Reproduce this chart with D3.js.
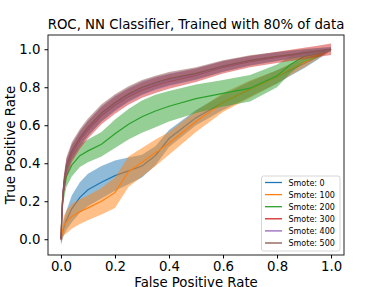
<!DOCTYPE html>
<html><head><meta charset="utf-8">
<script src="https://cdn.jsdelivr.net/npm/d3@7"></script>
<style>body{margin:0;background:#fff}svg{display:block}text{font-family:"DejaVu Sans",sans-serif}</style>
</head><body><svg id="c" width="382" height="287"></svg>
<script>
const fpr = [0, 0.005, 0.01, 0.02, 0.04, 0.07, 0.1, 0.15, 0.2, 0.25, 0.3, 0.35, 0.4, 0.5, 0.6, 0.7, 0.8, 0.85, 0.9, 0.95, 1.0];
const labels = ["Smote: 0","Smote: 100","Smote: 200","Smote: 300","Smote: 400","Smote: 500"];
const colors = ["#1f77b4","#ff7f0e","#2ca02c","#d62728","#9467bd","#8c564b"];
const meanTpr = [
  [0, 0.03, 0.06, 0.10, 0.16, 0.22, 0.26, 0.30, 0.335, 0.36, 0.385, 0.44, 0.53, 0.64, 0.72, 0.79, 0.855, 0.89, 0.925, 0.96, 1.0],
  [0, 0.04, 0.07, 0.09, 0.12, 0.145, 0.165, 0.20, 0.245, 0.355, 0.405, 0.455, 0.505, 0.62, 0.72, 0.79, 0.855, 0.895, 0.93, 0.965, 1.0],
  [0, 0.17, 0.25, 0.33, 0.39, 0.44, 0.465, 0.50, 0.555, 0.605, 0.645, 0.675, 0.70, 0.74, 0.768, 0.795, 0.86, 0.92, 0.962, 0.978, 1.0],
  [0, 0.18, 0.27, 0.37, 0.45, 0.52, 0.575, 0.65, 0.705, 0.75, 0.785, 0.81, 0.83, 0.862, 0.905, 0.935, 0.957, 0.968, 0.978, 0.989, 1.0],
  [0, 0.19, 0.28, 0.38, 0.46, 0.53, 0.585, 0.66, 0.715, 0.76, 0.795, 0.82, 0.84, 0.87, 0.91, 0.94, 0.961, 0.971, 0.98, 0.99, 1.0],
  [0, 0.19, 0.285, 0.385, 0.465, 0.535, 0.59, 0.665, 0.72, 0.765, 0.80, 0.825, 0.845, 0.873, 0.912, 0.941, 0.962, 0.972, 0.981, 0.99, 1.0]
];
const stdTpr = [
  [0.03, 0.035, 0.04, 0.05, 0.07, 0.08, 0.085, 0.085, 0.08, 0.07, 0.06, 0.05, 0.045, 0.04, 0.04, 0.04, 0.035, 0.03, 0.025, 0.015, 0.005],
  [0.02, 0.04, 0.05, 0.06, 0.065, 0.065, 0.065, 0.07, 0.08, 0.08, 0.075, 0.07, 0.06, 0.055, 0.05, 0.045, 0.035, 0.03, 0.025, 0.015, 0.005],
  [0.02, 0.04, 0.05, 0.055, 0.06, 0.06, 0.06, 0.065, 0.075, 0.08, 0.085, 0.085, 0.08, 0.075, 0.07, 0.07, 0.06, 0.045, 0.03, 0.02, 0.005],
  [0.02, 0.04, 0.045, 0.045, 0.045, 0.045, 0.045, 0.045, 0.045, 0.042, 0.04, 0.04, 0.038, 0.035, 0.032, 0.03, 0.03, 0.03, 0.03, 0.03, 0.03],
  [0.02, 0.035, 0.04, 0.04, 0.04, 0.04, 0.04, 0.04, 0.04, 0.038, 0.036, 0.035, 0.033, 0.03, 0.028, 0.025, 0.022, 0.02, 0.018, 0.015, 0.01],
  [0.02, 0.04, 0.045, 0.045, 0.045, 0.045, 0.045, 0.045, 0.043, 0.04, 0.038, 0.036, 0.035, 0.032, 0.03, 0.027, 0.024, 0.022, 0.02, 0.017, 0.012]
];
const xTicks = [0, 0.2, 0.4, 0.6, 0.8, 1.0];
const yTicks = [0, 0.2, 0.4, 0.6, 0.8, 1.0];

const svg = d3.select("#c");
const L = 48, R = 344, T = 35, B = 255;
const x = d3.scaleLinear().domain([-0.048, 1.048]).range([L, R]);
const y = d3.scaleLinear().domain([-0.083, 1.075]).range([B, T]);

const g = svg.append("g");
meanTpr.forEach((m, i) => {
  const pts = fpr.map((f, j) => ({f, m: m[j], s: stdTpr[i][j]}));
  g.append("path").datum(pts)
    .attr("d", d3.line().x(d => x(d.f)).y(d => y(d.m)))
    .attr("fill", "none").attr("stroke", colors[i]).attr("stroke-width", 1.2);
  g.append("path").datum(pts)
    .attr("d", d3.area().x(d => x(d.f)).y0(d => y(Math.max(d.m - d.s, -0.03))).y1(d => y(Math.min(d.m + d.s, 1.03))))
    .attr("fill", colors[i]).attr("fill-opacity", 0.5).attr("stroke", "none");
});

svg.append("rect").attr("x", L).attr("y", T).attr("width", R - L).attr("height", B - T)
  .attr("fill", "none").attr("stroke", "#222").attr("stroke-width", 1);

const xa = svg.append("g").attr("transform", `translate(0,${B})`)
  .call(d3.axisBottom(x).tickValues(xTicks).tickFormat(d3.format(".1f")).tickSize(3.5).tickPadding(3));
const ya = svg.append("g").attr("transform", `translate(${L},0)`)
  .call(d3.axisLeft(y).tickValues(yTicks).tickFormat(d3.format(".1f")).tickSize(3.5).tickPadding(4));
[xa, ya].forEach(a => {
  a.select(".domain").remove();
  a.selectAll("text").attr("font-size", 13.3).attr("fill", "#000").style("font-family", "DejaVu Sans");
  a.selectAll("line").attr("stroke", "#000");
});

svg.append("text").attr("x", (L + R) / 2).attr("y", 29).attr("text-anchor", "middle")
  .attr("font-size", 13.3).text("ROC, NN Classifier, Trained with 80% of data");
svg.append("text").attr("x", (L + R) / 2).attr("y", 286.5).attr("text-anchor", "middle")
  .attr("font-size", 13.3).text("False Positive Rate");
svg.append("text").attr("transform", `translate(15,${(T + B) / 2}) rotate(-90)`).attr("text-anchor", "middle")
  .attr("font-size", 13.3).text("True Positive Rate");

const lg = svg.append("g");
lg.append("rect").attr("x", 261.5).attr("y", 176).attr("width", 78.5).attr("height", 75)
  .attr("fill", "#fff").attr("fill-opacity", 0.8).attr("stroke", "#ccc").attr("stroke-width", 0.8).attr("rx", 2);
labels.forEach((lab, i) => {
  const yy = 182.5 + i * 12.1;
  lg.append("line").attr("x1", 265).attr("x2", 282).attr("y1", yy).attr("y2", yy)
    .attr("stroke", colors[i]).attr("stroke-width", 1.3);
  lg.append("text").attr("x", 288.5).attr("y", yy + 3).attr("font-size", 8).text(lab);
});
</script></body></html>
